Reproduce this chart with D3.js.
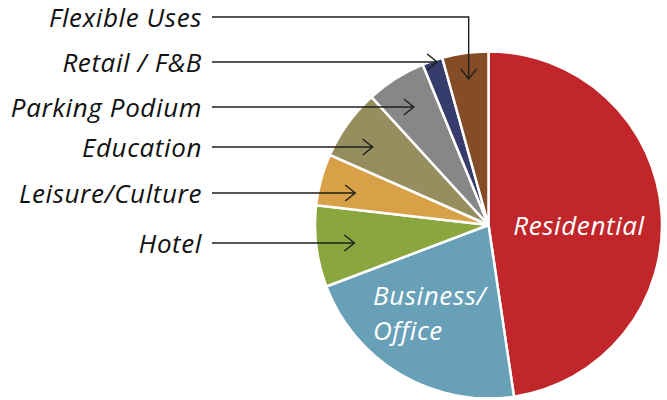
<!DOCTYPE html>
<html>
<head>
<meta charset="utf-8">
<script src="https://cdn.jsdelivr.net/npm/d3@7"></script>
<style>
  html, body { margin: 0; padding: 0; background: #fff; }
  svg { display: block; }
  text { font-family: "Open Sans", Lato, sans-serif; font-style: italic; letter-spacing: 0.6px; }
</style>
</head>
<body>
<svg id="chart" width="667" height="400"></svg>
<script>
// Land-use mix (share of total floor area, %), clockwise from 12 o'clock
const categories = ["Residential", "Business/ Office", "Hotel", "Leisure/Culture",
                    "Education", "Parking Podium", "Retail / F&B", "Flexible Uses"];
const shares = [47.7, 21.6, 7.6, 4.8, 6.6, 5.6, 1.9, 4.3];
const colors = ["#c1272a", "#67a0b7", "#89a63f", "#d9a147",
                "#978e5f", "#878787", "#363d6d", "#844c27"];

const width = 667, height = 400;
const cx = 488.5, cy = 225, radius = 173.5;

const svg = d3.select("#chart");
const data = categories.map((c, i) => ({ name: c, value: shares[i], color: colors[i] }));

const pie = d3.pie().sort(null).value(d => d.value).startAngle(0).endAngle(2 * Math.PI);
const arcs = pie(data);
const arc = d3.arc().innerRadius(0).outerRadius(radius);

const g = svg.append("g").attr("transform", `translate(${cx},${cy})`);
g.selectAll("path.slice")
  .data(arcs)
  .join("path")
  .attr("class", "slice")
  .attr("d", arc)
  .attr("fill", d => d.data.color)
  .attr("stroke", "#fff")
  .attr("stroke-width", 2.5)
  .attr("stroke-linejoin", "round");

// In-slice labels for the two large segments
const inner = [
  { name: "Residential", lines: ["Residential"], anchor: "middle", dx: 90.5, dy: 10 },
  { name: "Business/ Office", lines: ["Business/", "Office"], anchor: "start", dx: -115.5, dy: 80 }
];
inner.forEach(l => {
  const t = g.append("text")
    .attr("fill", "#fff")
    .attr("font-size", 26)
    .attr("text-anchor", l.anchor)
    .attr("x", l.dx)
    .attr("y", l.dy);
  l.lines.forEach((s, i) => {
    t.append("tspan").attr("x", l.dx).attr("dy", i === 0 ? 0 : 35).text(s);
  });
});

// Callout labels for the small segments: text row, leader line, open arrowhead
const callouts = [
  { name: "Flexible Uses",   y: 17,  r: 0.85, vertical: true },
  { name: "Retail / F&B",    y: 62,  r: 0.985 },
  { name: "Parking Podium",  y: 107, r: 0.805 },
  { name: "Education",       y: 147, r: 0.805 },
  { name: "Leisure/Culture", y: 193, r: 0.79 },
  { name: "Hotel",           y: 243, r: 0.78 }
];
const labelRight = 202, lineStart = 212;
const ink = "#1e1e1e";

function arrowHead(tip, dir) {
  // open chevron pointing along dir (unit vector)
  const len = 10, half = 8;
  const bx = tip[0] - dir[0] * len, by = tip[1] - dir[1] * len;
  const px = -dir[1], py = dir[0];
  return `M${bx + px * half},${by + py * half}L${tip[0]},${tip[1]}L${bx - px * half},${by - py * half}`;
}

callouts.forEach(c => {
  const a = arcs.find(d => d.data.name === c.name);
  const mid = (a.startAngle + a.endAngle) / 2;
  const rr = radius * c.r;
  let pathD, tip, dir;
  if (c.vertical) {
    tip = [cx + Math.sin(mid) * rr, cy - Math.cos(mid) * rr];
    pathD = `M${lineStart},${c.y}H${tip[0]}V${tip[1]}`;
    dir = [0, 1];
  } else {
    const dy = c.y - cy;
    tip = [cx - Math.sqrt(rr * rr - dy * dy), c.y];
    pathD = `M${lineStart},${c.y}H${tip[0]}`;
    dir = [1, 0];
  }
  svg.append("path").attr("d", pathD).attr("fill", "none")
    .attr("stroke", ink).attr("stroke-width", 1.4);
  svg.append("path").attr("d", arrowHead(tip, dir)).attr("fill", "none")
    .attr("stroke", ink).attr("stroke-width", 1.4);
  svg.append("text")
    .attr("x", labelRight)
    .attr("y", c.y + 9.5)
    .attr("text-anchor", "end")
    .attr("font-size", 26)
    .attr("fill", "#111")
    .text(c.name);
});
</script>
</body>
</html>
